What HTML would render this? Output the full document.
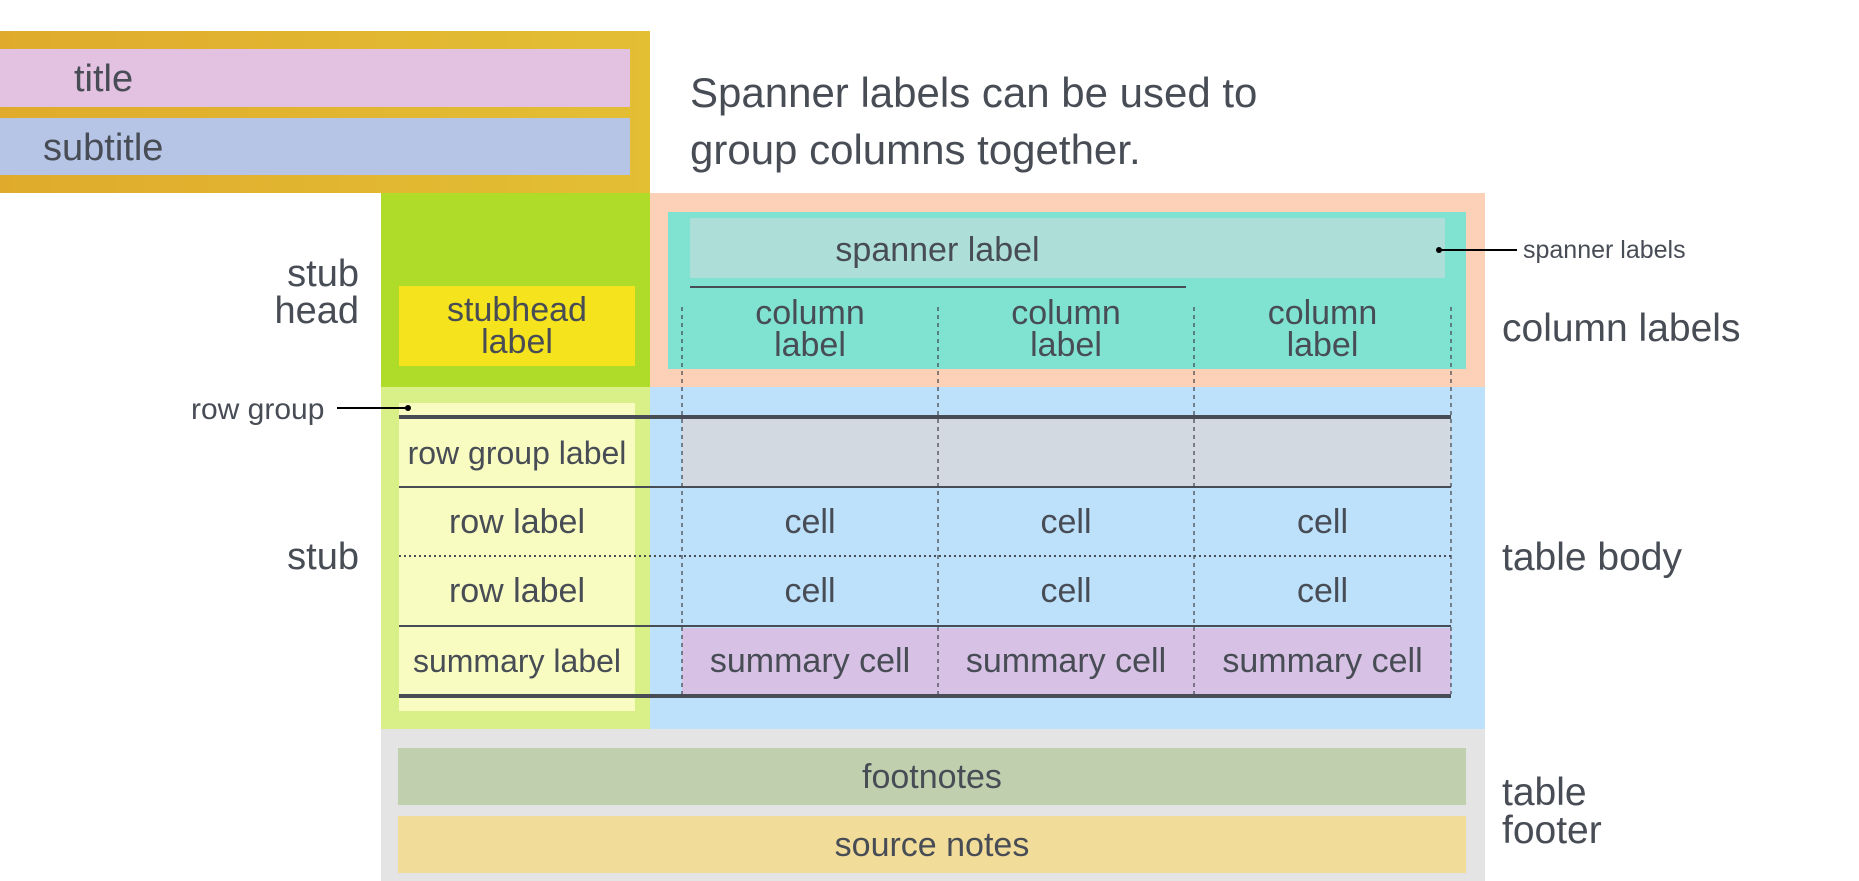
<!DOCTYPE html>
<html><head><meta charset="utf-8"><style>
body{margin:0;width:1859px;height:881px;background:#fff;position:relative;overflow:hidden;font-family:"Liberation Sans",sans-serif;color:#474c55}
.b{position:absolute}
.t{position:absolute;white-space:nowrap;line-height:1}
.c{position:absolute;display:flex;align-items:center;justify-content:center;text-align:center;line-height:32px;font-size:34px;white-space:nowrap}
</style></head><body>
<div class="b" style="left:0;top:31px;width:650px;height:162px;background:linear-gradient(90deg,#e0ab2c,#e3bf34)"></div>
<div class="b" style="left:0;top:49px;width:630px;height:58px;background:#e2c1e1"></div>
<div class="b" style="left:0;top:118px;width:630px;height:57px;background:#b6c4e6"></div>
<div class="t" style="left:74px;top:60px;font-size:38px">title</div>
<div class="t" style="left:43px;top:129px;font-size:38px">subtitle</div>
<div class="t" style="left:690px;top:64px;font-size:42px;line-height:57px">Spanner labels can be used to<br>group columns together.</div>

<div class="b" style="left:381px;top:193px;width:269px;height:194px;background:#afdc28"></div>
<div class="b" style="left:399px;top:286px;width:236px;height:80px;background:#f5e31d"></div>
<div class="c" style="left:399px;top:286px;width:236px;height:80px">stubhead<br>label</div>
<div class="t" style="left:200px;top:256px;width:159px;text-align:right;font-size:38px;line-height:37px">stub<br>head</div>

<div class="b" style="left:650px;top:193px;width:835px;height:194px;background:#fdd0b8"></div>
<div class="b" style="left:668px;top:212px;width:798px;height:157px;background:#80e3d2"></div>
<div class="b" style="left:690px;top:218px;width:755px;height:60px;background:#addfd8"></div>
<div class="c" style="left:690px;top:220px;width:495px;height:60px">spanner label</div>

<div class="b" style="left:381px;top:387px;width:269px;height:342px;background:#d9ef88"></div>
<div class="b" style="left:399px;top:403px;width:236px;height:308px;background:#f8fcc1"></div>
<div class="b" style="left:650px;top:387px;width:835px;height:342px;background:#bde1fb"></div>
<div class="b" style="left:682px;top:419px;width:769px;height:68px;background:#d3d9e1"></div>
<div class="b" style="left:682px;top:628px;width:769px;height:66px;background:#d7c1e4"></div>

<div class="b" style="left:381px;top:729px;width:1104px;height:152px;background:#e4e4e4"></div>
<div class="b" style="left:398px;top:748px;width:1068px;height:57px;background:#c0d0af"></div>
<div class="b" style="left:398px;top:816px;width:1068px;height:57px;background:#f1dc9a"></div>
<div class="c" style="left:398px;top:748px;width:1068px;height:57px">footnotes</div>
<div class="c" style="left:398px;top:816px;width:1068px;height:57px">source notes</div>

<svg class="b" style="left:0;top:0" width="1859" height="881">
<g stroke="#474c55" fill="none">
<line x1="690" y1="287" x2="1186" y2="287" stroke-width="2"/>
<g stroke-width="1.3" stroke-dasharray="4,4">
<line x1="682" y1="307" x2="682" y2="694"/><line x1="938" y1="307" x2="938" y2="694"/>
<line x1="1194" y1="307" x2="1194" y2="694"/><line x1="1451" y1="307" x2="1451" y2="694"/>
</g>
<line x1="399" y1="417" x2="1451" y2="417" stroke-width="4"/>
<line x1="399" y1="487" x2="1451" y2="487" stroke-width="2"/>
<line x1="399" y1="556" x2="1451" y2="556" stroke-width="2" stroke-dasharray="2,3"/>
<line x1="399" y1="626" x2="1451" y2="626" stroke-width="2"/>
<line x1="399" y1="696" x2="1451" y2="696" stroke-width="4"/>
<line x1="337" y1="408" x2="407" y2="408" stroke="#000" stroke-width="2"/>
<line x1="1440" y1="250" x2="1517" y2="250" stroke="#000" stroke-width="2"/>
</g>
<circle cx="408" cy="408" r="3" fill="#000"/><circle cx="1439" cy="250" r="3" fill="#000"/>
</svg>

<div class="c" style="left:682px;top:292px;width:256px;height:74px">column<br>label</div>
<div class="c" style="left:938px;top:292px;width:256px;height:74px">column<br>label</div>
<div class="c" style="left:1194px;top:292px;width:257px;height:74px">column<br>label</div>

<div class="c" style="left:399px;top:419px;width:236px;height:68px;font-size:32px">row group label</div>
<div class="c" style="left:399px;top:487px;width:236px;height:69px">row label</div>
<div class="c" style="left:399px;top:556px;width:236px;height:70px">row label</div>
<div class="c" style="left:399px;top:626px;width:236px;height:70px;font-size:32px">summary label</div>
<div class="c" style="left:682px;top:487px;width:256px;height:69px">cell</div>
<div class="c" style="left:938px;top:487px;width:256px;height:69px">cell</div>
<div class="c" style="left:1194px;top:487px;width:257px;height:69px">cell</div>
<div class="c" style="left:682px;top:556px;width:256px;height:70px">cell</div>
<div class="c" style="left:938px;top:556px;width:256px;height:70px">cell</div>
<div class="c" style="left:1194px;top:556px;width:257px;height:70px">cell</div>
<div class="c" style="left:682px;top:626px;width:256px;height:70px">summary cell</div>
<div class="c" style="left:938px;top:626px;width:256px;height:70px">summary cell</div>
<div class="c" style="left:1194px;top:626px;width:257px;height:70px">summary cell</div>

<div class="t" style="left:191px;top:395px;font-size:30px">row group</div>
<div class="t" style="left:1523px;top:238px;font-size:25px">spanner labels</div>
<div class="t" style="left:1502px;top:309px;font-size:39px">column labels</div>
<div class="t" style="left:1502px;top:538px;font-size:39px">table body</div>
<div class="t" style="left:200px;top:538px;width:159px;text-align:right;font-size:38px">stub</div>
<div class="t" style="left:1502px;top:774px;font-size:39px;line-height:38px">table<br>footer</div>
</body></html>
